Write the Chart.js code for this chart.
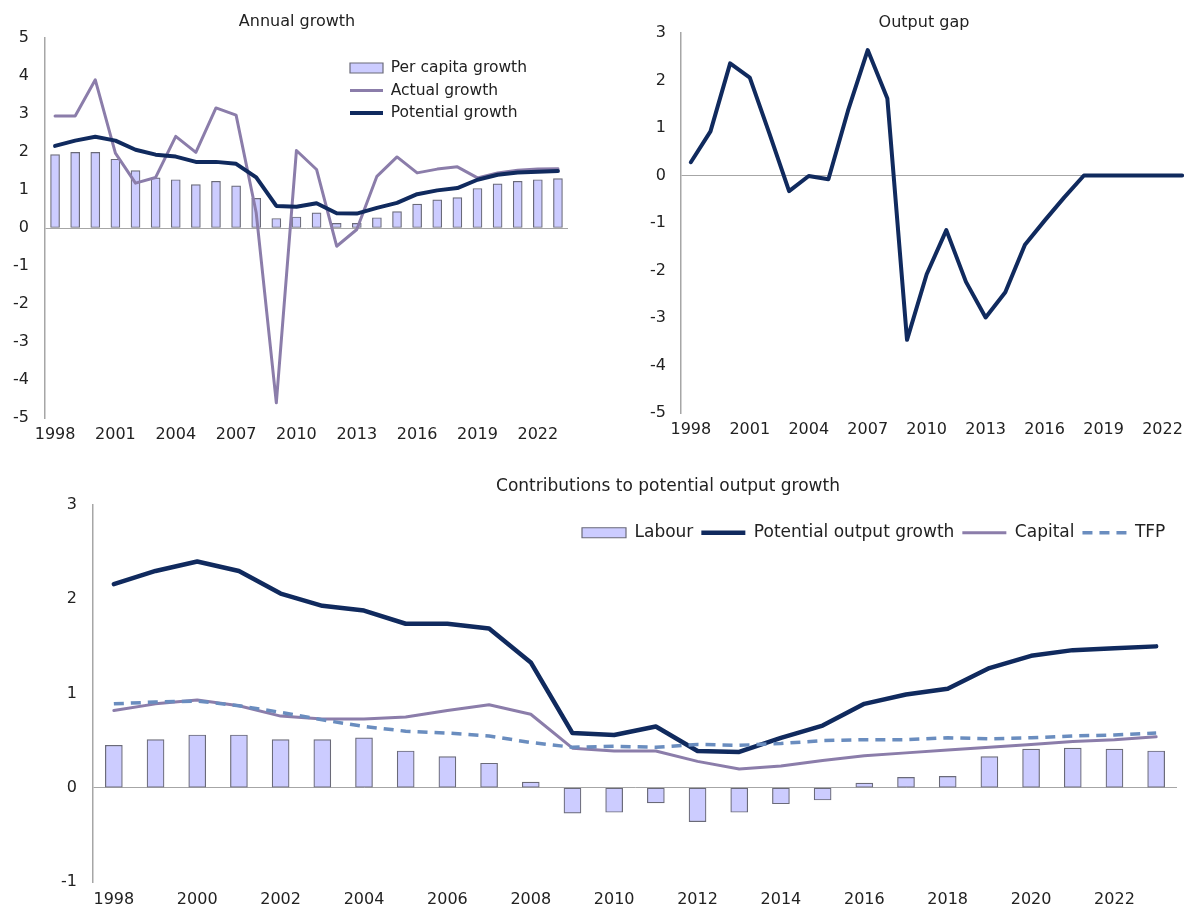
<!DOCTYPE html>
<html><head><meta charset="utf-8">
<script src="https://cdn.jsdelivr.net/npm/chart.js@4.4.1/dist/chart.umd.min.js"></script>
<style>
html,body{margin:0;padding:0;background:#fff;overflow:hidden;width:1184px;height:909px;position:relative;}
.box{position:absolute;}
canvas{display:block;}
</style></head><body>
<div class="box" style="left:0;top:0;width:590px;height:450px"><canvas id="c1" width="590" height="450"></canvas></div>
<div class="box" style="left:600px;top:0;width:600px;height:450px"><canvas id="c2" width="600" height="450"></canvas></div>
<div class="box" style="left:0;top:460px;width:1200px;height:449px"><canvas id="c3" width="1200" height="449"></canvas></div>
<script>
// ---- data ----
const years = ['1998','1999','2000','2001','2002','2003','2004','2005','2006','2007','2008','2009','2010','2011','2012','2013','2014','2015','2016','2017','2018','2019','2020','2021','2022','2023'];
const perCapitaGrowth = [1.93,1.99,1.99,1.81,1.51,1.32,1.27,1.14,1.23,1.11,0.78,0.25,0.29,0.40,0.12,0.12,0.27,0.43,0.63,0.74,0.80,1.04,1.16,1.23,1.27,1.30];
const actualGrowth = [2.95,2.95,3.90,1.97,1.18,1.33,2.41,1.99,3.16,2.97,0.40,-4.60,2.04,1.54,-0.48,-0.04,1.36,1.87,1.45,1.55,1.61,1.32,1.45,1.52,1.55,1.56];
const potentialGrowth = [2.16,2.30,2.40,2.30,2.06,1.93,1.88,1.74,1.74,1.69,1.33,0.58,0.56,0.65,0.39,0.38,0.53,0.66,0.89,0.99,1.05,1.27,1.40,1.46,1.48,1.50];
const outputGap = [0.28,0.93,2.36,2.06,0.88,-0.33,-0.01,-0.08,1.37,2.64,1.62,-3.46,-2.08,-1.15,-2.24,-2.99,-2.46,-1.46,-0.95,-0.46,0,0,0,0,0,0];
const labourContribution = [0.45,0.51,0.56,0.56,0.51,0.51,0.53,0.39,0.33,0.26,0.06,-0.27,-0.26,-0.16,-0.36,-0.26,-0.17,-0.13,0.05,0.11,0.12,0.33,0.41,0.42,0.41,0.39];
const capitalContribution = [0.82,0.89,0.93,0.87,0.76,0.73,0.73,0.75,0.82,0.88,0.78,0.42,0.39,0.39,0.28,0.20,0.23,0.29,0.34,0.37,0.40,0.43,0.46,0.49,0.51,0.54];
const tfpContribution = [0.89,0.91,0.92,0.87,0.80,0.72,0.65,0.60,0.58,0.55,0.48,0.43,0.44,0.43,0.46,0.45,0.47,0.50,0.51,0.51,0.53,0.52,0.53,0.55,0.56,0.58];
const annualTicks = [-5,-4,-3,-2,-1,0,1,2,3,4,5];
const gapTicks = [-5,-4,-3,-2,-1,0,1,2,3];
const contribTicks = [-1,0,1,2,3];

// ---- styles ----
const FONT = 'DejaVu Sans';
const TXT = '#222222';
const NAVY = '#102a5e';
const PURPLE = '#8b7daa';
const STEEL = '#6a8dbf';
const BARFILL = '#ccccff';
const BARLINE = '#6a6a78';
const AXIS = '#a6a6a6';

function placePlugin(p) {
  return {
    id: 'place',
    afterInit(chart) { if (p.horizontalLegend && chart.legend) chart.legend.isHorizontal = () => true; },
    afterLayout(chart) {
      const t = chart.titleBlock;
      if (t && p.titleX != null) { t.left = p.titleX - 300; t.right = p.titleX + 300; }
      const lg = chart.legend;
      if (lg && p.legend) {
        const L = p.legend;
        lg.left = L.x; lg.top = L.y; lg.right = L.x + L.w; lg.bottom = L.y + L.h;
        lg.width = L.w; lg.height = L.h;
      }
    }
  };
}
function legendLabels(chart) {
  return chart.data.datasets.map((ds, i) => ({
    text: ds.label, datasetIndex: i, hidden: false, rotation: 0,
    fillStyle: ds.type === 'bar' ? ds.backgroundColor : 'rgba(0,0,0,0)',
    strokeStyle: ds.borderColor, lineWidth: ds.borderWidth,
    lineDash: ds.borderDash || [], lineCap: 'butt', lineJoin: 'miter',
    pointStyle: ds.type === 'bar' ? 'rect' : 'line', fontColor: TXT
  }));
}
function yAxis(ticksArr, width, pad) {
  return {
    min: ticksArr[0], max: ticksArr[ticksArr.length - 1],
    afterBuildTicks(s) { s.ticks = ticksArr.map(v => ({value: v})); },
    ticks: {padding: pad, color: TXT, font: {family: FONT, size: 16}},
    grid: {drawTicks: false, lineWidth: 1, color: c => (c.tick && c.tick.value === 0) ? AXIS : 'rgba(0,0,0,0)'},
    border: {display: true, color: AXIS, width: 1.5},
    afterFit(s) { s.width = width; }
  };
}
function xAxis(every, height, pad) {
  return {
    type: 'category', offset: true,
    grid: {display: false, drawTicks: false}, border: {display: false},
    ticks: {autoSkip: false, maxRotation: 0, minRotation: 0, padding: pad, color: TXT, font: {family: FONT, size: 16},
      callback: function (v, i) { return i % every === 0 ? this.getLabelForValue(v) : ''; }},
    afterFit(s) { s.height = height; }
  };
}
function lineDs(label, data, color, width, order, dash) {
  return {type: 'line', label, data, borderColor: color, backgroundColor: color, borderWidth: width,
    borderDash: dash, pointRadius: 0, pointHoverRadius: 0, tension: 0, order,
    borderJoinStyle: 'round', borderCapStyle: dash ? 'butt' : 'round', fill: false};
}
function barDs(label, data, thickness, order) {
  return {type: 'bar', label, data, backgroundColor: BARFILL, borderColor: BARLINE, borderWidth: 1.2,
    borderSkipped: false, barThickness: thickness, order};
}

// ---- Chart 1: Annual growth ----
new Chart(document.getElementById('c1'), {
  type: 'bar',
  data: {labels: years, datasets: [
    barDs('Per capita growth', perCapitaGrowth, 9, 10),
    lineDs('Actual growth', actualGrowth, PURPLE, 3, 2),
    lineDs('Potential growth', potentialGrowth, NAVY, 4, 1)
  ]},
  options: {
    responsive: false, animation: false, events: [],
    layout: {padding: {left: 0, right: 22, top: 0, bottom: 0}},
    scales: {x: xAxis(3, 32, 7.4), y: yAxis(annualTicks, 45, 16)},
    plugins: {
      title: {display: true, text: 'Annual growth', color: TXT, font: {family: FONT, size: 16, weight: 'normal'}, padding: {top: 12.4, bottom: 6.4}},
      legend: {display: true, position: 'chartArea', fullSize: false, align: 'start',
        labels: {usePointStyle: true, pointStyleWidth: 33, boxHeight: 10, padding: 7, color: TXT,
          font: {family: FONT, size: 15.5}, generateLabels: legendLabels}},
      tooltip: {enabled: false}
    }
  },
  plugins: [placePlugin({titleX: 297, legend: {x: 343, y: 53.25, w: 230, h: 120}})]
});

// ---- Chart 2: Output gap ----
new Chart(document.getElementById('c2'), {
  type: 'line',
  data: {labels: years, datasets: [lineDs('Output gap', outputGap, NAVY, 4, 1)]},
  options: {
    responsive: false, animation: false, events: [],
    layout: {padding: {left: 0, right: 8, top: 0, bottom: 0}},
    scales: {x: xAxis(3, 37, 7.4), y: yAxis(gapTicks, 81, 15)},
    plugins: {
      title: {display: true, text: 'Output gap', color: TXT, font: {family: FONT, size: 16, weight: 'normal'}, padding: {top: 13.4, bottom: 0.4}},
      legend: {display: false},
      tooltip: {enabled: false}
    }
  },
  plugins: [placePlugin({titleX: 324})]
});

// ---- Chart 3: Contributions ----
new Chart(document.getElementById('c3'), {
  type: 'bar',
  data: {labels: years, datasets: [
    barDs('Labour', labourContribution, 17, 10),
    lineDs('Potential output growth', potentialGrowth, NAVY, 4.5, 3),
    lineDs('Capital', capitalContribution, PURPLE, 3, 2),
    lineDs('TFP', tfpContribution, STEEL, 3.5, 1, [10, 7])
  ]},
  options: {
    responsive: false, animation: false, events: [],
    layout: {padding: {left: 0, right: 23, top: 0, bottom: 0}},
    scales: {x: xAxis(2, 27, 8.4), y: yAxis(contribTicks, 93, 16)},
    plugins: {
      title: {display: true, text: 'Contributions to potential output growth', color: TXT, font: {family: FONT, size: 17, weight: 'normal'}, padding: {top: 16.8, bottom: 7.8}},
      legend: {display: true, position: 'chartArea', fullSize: false, align: 'start',
        labels: {usePointStyle: true, pointStyleWidth: 44, boxHeight: 10, padding: 8, color: TXT,
          font: {family: FONT, size: 17}, generateLabels: legendLabels}},
      tooltip: {enabled: false}
    }
  },
  plugins: [placePlugin({titleX: 668, horizontalLegend: true, legend: {x: 574, y: 56.25, w: 800, h: 40}})]
});
</script>
</body></html>
